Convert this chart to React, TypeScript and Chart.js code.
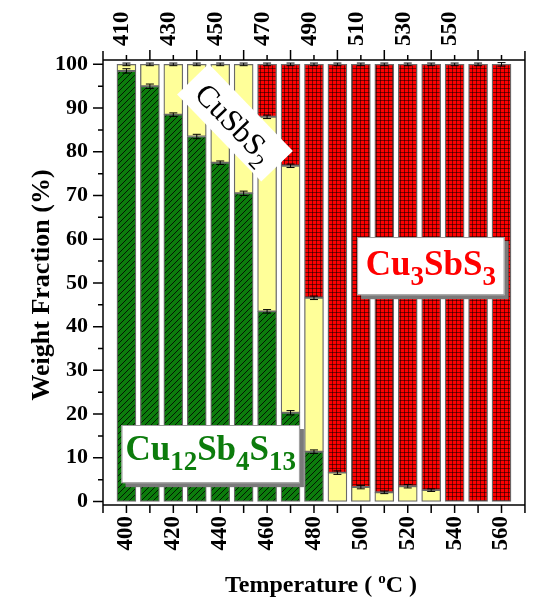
import { useEffect, useRef } from 'react';
import { Chart, registerables } from 'chart.js';

Chart.register(...registerables);

// Annealing temperatures (°C)
const temperatures = [400, 410, 420, 430, 440, 450, 460, 470, 480, 490, 500, 510, 520, 530, 540, 550, 560];

// Phase weight fractions (%)
const cu12Sb4S13 = [98.5, 95.0, 88.5, 83.5, 77.5, 70.5, 43.5, 20.3, 11.4, 0, 0, 0, 0, 0, 0, 0, 0];
const cuSbS2 = [1.5, 5.0, 11.5, 16.5, 22.5, 29.5, 44.5, 56.5, 35.2, 6.6, 3.3, 2.1, 3.5, 2.6, 0, 0, 0];
const cu3SbS3 = [0, 0, 0, 0, 0, 0, 12.0, 23.2, 53.4, 93.4, 96.7, 97.9, 96.5, 97.4, 100, 100, 100];

// Uncertainty at the top of each segment (%)
const errCu12Sb4S13 = [0.5, 0.5, 0.4, 0.5, 0.4, 0.5, 0.4, 0.5, 0.4, 0, 0, 0, 0, 0, 0, 0, 0];
const errCuSbS2 = [0.3, 0.3, 0.3, 0.3, 0.3, 0.3, 0.4, 0.4, 0.4, 0.4, 0.4, 0.3, 0.4, 0.3, 0, 0, 0];
const errCu3SbS3 = [0, 0, 0, 0, 0, 0, 0.3, 0.3, 0.3, 0.3, 0.3, 0.3, 0.3, 0.3, 0.3, 0.3, 0.4];

// Axis tick labels
const bottomTickLabels = [400, 420, 440, 460, 480, 500, 520, 540, 560];
const topTickLabels = [410, 430, 450, 470, 490, 510, 530, 550];
const yTickLabels = [0, 10, 20, 30, 40, 50, 60, 70, 80, 90, 100];

const FONT = '"Liberation Serif", "Times New Roman", serif';
const GREEN = '#0c7c0c';
const YELLOW = '#ffff99';
const RED = '#ff0000';

function hatchPattern(ctx: CanvasRenderingContext2D): CanvasPattern {
  const c = document.createElement('canvas');
  c.width = 6;
  c.height = 6;
  const g = c.getContext('2d')!;
  g.fillStyle = GREEN;
  g.fillRect(0, 0, 6, 6);
  g.strokeStyle = 'rgba(0,0,0,0.8)';
  g.lineWidth = 1;
  g.beginPath();
  g.moveTo(-1, 7);
  g.lineTo(7, -1);
  g.moveTo(-4, 4);
  g.lineTo(4, -4);
  g.moveTo(2, 10);
  g.lineTo(10, 2);
  g.stroke();
  return ctx.createPattern(c, 'repeat')!;
}

function gridPattern(ctx: CanvasRenderingContext2D): CanvasPattern {
  const c = document.createElement('canvas');
  c.width = 4;
  c.height = 4;
  const g = c.getContext('2d')!;
  g.fillStyle = RED;
  g.fillRect(0, 0, 4, 4);
  g.fillStyle = 'rgba(0,0,0,0.5)';
  g.fillRect(0, 0, 4, 1);
  g.fillRect(0, 0, 1, 4);
  return ctx.createPattern(c, 'repeat')!;
}

type Part = [string, boolean];

function formulaWidth(ctx: CanvasRenderingContext2D, parts: Part[], weight: string, size: number, subSize: number) {
  let w = 0;
  for (const [t, sub] of parts) {
    ctx.font = `${weight} ${sub ? subSize : size}px ${FONT}`;
    w += ctx.measureText(t).width;
  }
  return w;
}

function drawFormula(
  ctx: CanvasRenderingContext2D,
  parts: Part[],
  cx: number,
  baseline: number,
  weight: string,
  size: number,
  subSize: number,
  subDrop: number,
  color: string
) {
  const w = formulaWidth(ctx, parts, weight, size, subSize);
  let x = cx - w / 2;
  ctx.fillStyle = color;
  ctx.textAlign = 'left';
  ctx.textBaseline = 'alphabetic';
  for (const [t, sub] of parts) {
    ctx.font = `${weight} ${sub ? subSize : size}px ${FONT}`;
    ctx.fillText(t, x, sub ? baseline + subDrop : baseline);
    x += ctx.measureText(t).width;
  }
}

function labelBox(ctx: CanvasRenderingContext2D, x0: number, y0: number, x1: number, y1: number) {
  ctx.fillStyle = '#7a7a7a';
  ctx.fillRect(x0 + 4, y0 + 4, x1 - x0, y1 - y0);
  ctx.fillStyle = '#ffffff';
  ctx.fillRect(x0, y0, x1 - x0, y1 - y0);
  ctx.strokeStyle = '#9a9a9a';
  ctx.lineWidth = 1;
  ctx.strokeRect(x0 + 0.5, y0 + 0.5, x1 - x0 - 1, y1 - y0 - 1);
}

const decorations = {
  id: 'decorations',
  afterDatasetsDraw(chart: any) {
    const ctx: CanvasRenderingContext2D = chart.ctx;
    const xs = chart.scales.x;
    const ys = chart.scales.y;

    // error caps on top of every segment
    const series: [number[], number[]][] = [
      [cu12Sb4S13, errCu12Sb4S13],
      [cuSbS2, errCuSbS2],
      [cu3SbS3, errCu3SbS3],
    ];
    const cum = temperatures.map(() => 0);
    ctx.save();
    ctx.strokeStyle = '#000';
    ctx.lineWidth = 1;
    for (const [vals, errs] of series) {
      vals.forEach((v, i) => {
        if (v <= 0) return;
        cum[i] += v;
        const px = xs.getPixelForValue(temperatures[i]);
        const yt = ys.getPixelForValue(cum[i] + errs[i]);
        const yb = ys.getPixelForValue(cum[i] - errs[i]);
        ctx.beginPath();
        ctx.moveTo(px - 4, yt);
        ctx.lineTo(px + 4, yt);
        ctx.moveTo(px - 4, yb);
        ctx.lineTo(px + 4, yb);
        ctx.moveTo(px, yt);
        ctx.lineTo(px, yb);
        ctx.stroke();
      });
    }

    // Cu12Sb4S13 label
    {
      const x0 = xs.getPixelForValue(397.9);
      const x1 = xs.getPixelForValue(474);
      const y0 = ys.getPixelForValue(17.5);
      const y1 = ys.getPixelForValue(4.2);
      labelBox(ctx, x0, y0, x1, y1);
      drawFormula(
        ctx,
        [['Cu', false], ['12', true], ['Sb', false], ['4', true], ['S', false], ['13', true]],
        (x0 + x1) / 2,
        (y0 + y1) / 2 + 6,
        'bold', 35, 27, 10, GREEN
      );
    }

    // Cu3SbS3 label
    {
      const x0 = xs.getPixelForValue(498.4);
      const x1 = xs.getPixelForValue(561.3);
      const y0 = ys.getPixelForValue(60.5);
      const y1 = ys.getPixelForValue(47.2);
      labelBox(ctx, x0, y0, x1, y1);
      drawFormula(
        ctx,
        [['Cu', false], ['3', true], ['Sb', false], ['S', false], ['3', true]],
        (x0 + x1) / 2,
        (y0 + y1) / 2 + 9,
        'bold', 35, 27, 10, RED
      );
    }

    // CuSbS2 label, tilted
    {
      const cx = xs.getPixelForValue(446);
      const cy = ys.getPixelForValue(86.5);
      const parts: Part[] = [['CuSbS', false], ['2', true]];
      const w = formulaWidth(ctx, parts, 'normal', 31, 22);
      ctx.save();
      ctx.translate(cx, cy);
      ctx.rotate((46 * Math.PI) / 180);
      ctx.fillStyle = '#ffffff';
      ctx.fillRect(-w / 2 - 12, -23, w + 24, 44);
      drawFormula(ctx, parts, 0, 10, 'normal', 31, 22, 8, '#000');
      ctx.restore();
    }
    ctx.restore();
  },
  afterDraw(chart: any) {
    const ctx: CanvasRenderingContext2D = chart.ctx;
    const { left, right, top, bottom } = chart.chartArea;
    const xs = chart.scales.x;
    const ys = chart.scales.y;
    ctx.save();
    ctx.strokeStyle = '#000';
    ctx.lineWidth = 1.5;
    ctx.beginPath();
    // frame
    ctx.moveTo(left, top - 9);
    ctx.lineTo(left, bottom + 8);
    ctx.moveTo(right, top - 9);
    ctx.lineTo(right, bottom + 8);
    ctx.moveTo(left, top);
    ctx.lineTo(right, top);
    ctx.moveTo(left, bottom);
    ctx.lineTo(right, bottom);
    // y ticks: major every 10, minor every 5
    for (let v = 0; v <= 100; v += 5) {
      const py = ys.getPixelForValue(v);
      const len = v % 10 === 0 ? 10 : 5;
      ctx.moveTo(left - len, py);
      ctx.lineTo(left, py);
    }
    // bottom ticks every 10
    for (let v = 400; v <= 560; v += 10) {
      const px = xs.getPixelForValue(v);
      ctx.moveTo(px, bottom);
      ctx.lineTo(px, bottom + 8);
    }
    // top ticks: long at labelled values
    for (let v = 400; v <= 560; v += 10) {
      const px = xs.getPixelForValue(v);
      const len = topTickLabels.includes(v) ? 10 : 5;
      ctx.moveTo(px, top);
      ctx.lineTo(px, top - len);
    }
    ctx.stroke();

    // axis titles
    ctx.fillStyle = '#000';
    ctx.textBaseline = 'alphabetic';
    ctx.save();
    ctx.translate(49, 285);
    ctx.rotate(-Math.PI / 2);
    ctx.font = `bold 26px ${FONT}`;
    ctx.textAlign = 'center';
    ctx.fillText('Weight Fraction (%)', 0, 0);
    ctx.restore();

    const pieces: [string, boolean][] = [['Temperature ( ', false], ['o', true], ['C )', false]];
    let w = 0;
    for (const [t, sup] of pieces) {
      ctx.font = `bold ${sup ? 15 : 24}px ${FONT}`;
      w += ctx.measureText(t).width;
    }
    let x = 321 - w / 2;
    ctx.textAlign = 'left';
    for (const [t, sup] of pieces) {
      ctx.font = `bold ${sup ? 15 : 24}px ${FONT}`;
      ctx.fillText(t, x, sup ? 583 : 592);
      x += ctx.measureText(t).width;
    }
    ctx.restore();
  },
};

export default function App() {
  const canvasRef = useRef<HTMLCanvasElement | null>(null);

  useEffect(() => {
    const canvas = canvasRef.current!;
    const ctx = canvas.getContext('2d')!;
    const toPoints = (vals: number[]) =>
      vals.map((v, i) => ({ x: temperatures[i], y: v > 0 ? v : null }));

    const barStyle = {
      borderColor: '#6a6a6a',
      borderWidth: 1.3,
      borderSkipped: false as const,
      barThickness: 19,
      stack: 'phases',
    };

    const chart = new Chart(ctx, {
      type: 'bar',
      data: {
        datasets: [
          { label: 'Cu12Sb4S13', data: toPoints(cu12Sb4S13), backgroundColor: hatchPattern(ctx), ...barStyle },
          { label: 'CuSbS2', data: toPoints(cuSbS2), backgroundColor: YELLOW, ...barStyle },
          { label: 'Cu3SbS3', data: toPoints(cu3SbS3), backgroundColor: gridPattern(ctx), ...barStyle },
        ] as any,
      },
      options: {
        animation: false,
        responsive: false,
        devicePixelRatio: 1,
        layout: { padding: { left: 0, right: 3, top: 0, bottom: 0 } },
        plugins: { legend: { display: false }, tooltip: { enabled: false } },
        scales: {
          x: {
            type: 'linear',
            position: 'bottom',
            min: 390,
            max: 570,
            offset: false,
            stacked: true,
            grid: { display: false, drawTicks: false },
            border: { display: false },
            afterBuildTicks: (s: any) => {
              s.ticks = bottomTickLabels.map((v) => ({ value: v }));
            },
            afterFit: (s: any) => {
              s.height = 95;
            },
            ticks: {
              autoSkip: false,
              minRotation: 90,
              maxRotation: 90,
              padding: 11,
              color: '#000',
              font: { family: FONT, size: 23, weight: 'bold' },
              callback: (v: any) => String(v),
            },
          },
          x2: {
            type: 'linear',
            axis: 'x',
            position: 'top',
            min: 390,
            max: 570,
            offset: false,
            grid: { display: false, drawTicks: false },
            border: { display: false },
            afterBuildTicks: (s: any) => {
              s.ticks = topTickLabels.map((v) => ({ value: v }));
            },
            afterFit: (s: any) => {
              s.height = 60;
            },
            ticks: {
              autoSkip: false,
              minRotation: 90,
              maxRotation: 90,
              padding: 14,
              color: '#000',
              font: { family: FONT, size: 23, weight: 'bold' },
              callback: (v: any) => String(v),
            },
          },
          y: {
            type: 'linear',
            min: -0.8,
            max: 101,
            stacked: true,
            grid: { display: false, drawTicks: false },
            border: { display: false },
            afterBuildTicks: (s: any) => {
              s.ticks = yTickLabels.map((v) => ({ value: v }));
            },
            afterFit: (s: any) => {
              s.width = 103;
            },
            ticks: {
              padding: 15,
              color: '#000',
              font: { family: FONT, size: 22, weight: 'bold' },
              callback: (v: any) => String(v),
            },
          },
        },
      } as any,
      plugins: [decorations],
    });

    return () => chart.destroy();
  }, []);

  return (
    <div style={{ position: 'fixed', left: 0, top: 0, width: 541, height: 600, background: '#fff' }}>
      <canvas ref={canvasRef} width={541} height={600} style={{ display: 'block' }} />
    </div>
  );
}
